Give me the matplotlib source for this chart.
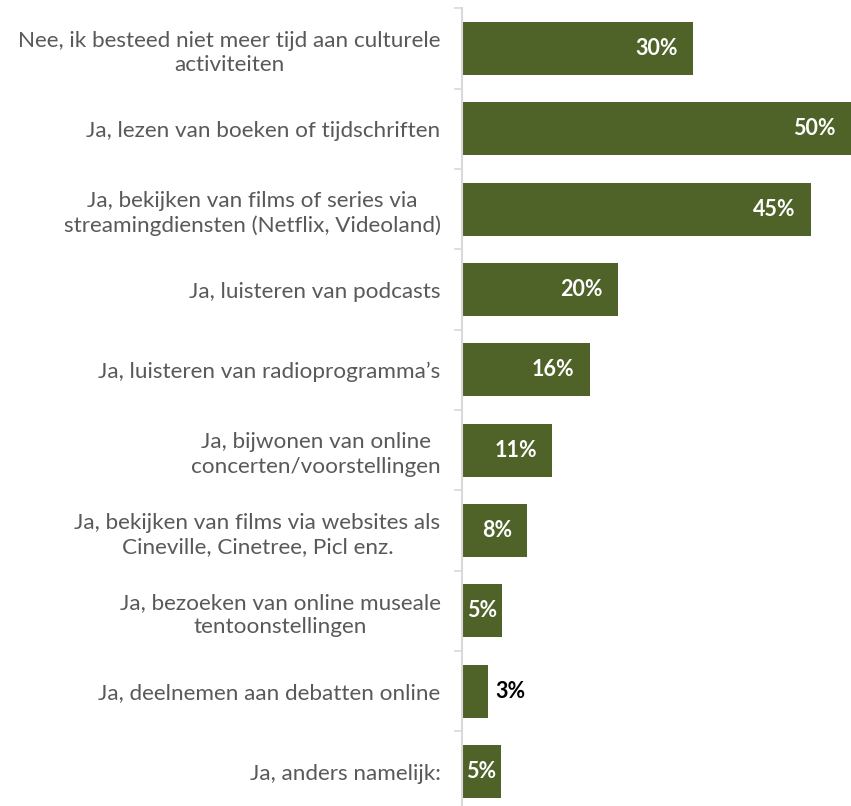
import numpy as np
import matplotlib.pyplot as plt

plt.rcParams['font.family'] = ['Lato', 'DejaVu Sans']

categories = [
    "Nee, ik besteed niet meer tijd aan culturele\nactiviteiten",
    "Ja, lezen van boeken of tijdschriften",
    "Ja, bekijken van films of series via\nstreamingdiensten (Netflix, Videoland)",
    "Ja, luisteren van podcasts",
    "Ja, luisteren van radioprogramma\u2019s",
    "Ja, bijwonen van online\nconcerten/voorstellingen",
    "Ja, bekijken van films via websites als\nCineville, Cinetree, Picl enz.",
    "Ja, bezoeken van online museale\ntentoonstellingen",
    "Ja, deelnemen aan debatten online",
    "Ja, anders namelijk:",
]
values = [29.7, 50.0, 44.9, 20.1, 16.4, 11.6, 8.4, 5.1, 3.3, 5.0]
labels = ["30%", "50%", "45%", "20%", "16%", "11%", "8%", "5%", "3%", "5%"]

bar_color = "#4F6228"
grey = "#595959"

fig = plt.figure(figsize=(8.51, 8.06), dpi=100)
ax = fig.add_axes([0.543, -0.0072, 0.457, 0.9968])

y = np.arange(len(categories))
ax.barh(y, values, height=0.66, color=bar_color)
ax.set_xlim(0, 50.05)
ax.set_ylim(len(categories) - 0.5, -0.5)

ax.set_yticks(y)
ax.set_yticklabels(categories, fontsize=16.2, color=grey)
for t in ax.get_yticklabels():
    t.set_multialignment("center")
    t.set_linespacing(1.27)
ax.set_yticks(np.arange(len(categories) + 1) - 0.5, minor=True)
ax.tick_params(axis="y", which="major", length=0, pad=15.5)
ax.tick_params(axis="y", which="minor", length=6, color="#D9D9D9", width=1.2)
ax.set_xticks([])
for s in ["top", "right", "bottom"]:
    ax.spines[s].set_visible(False)
ax.spines["left"].set_color("#D9D9D9")
ax.spines["left"].set_linewidth(1.5)

# value labels
for yi, v, lab in zip(y, values, labels):
    if v < 4:
        ax.annotate(lab, (v, yi), xytext=(5.5, 0), textcoords="offset points",
                    ha="left", va="center", fontsize=15.5, fontweight="bold", color="black")
    elif v < 6:
        ax.text(v / 2, yi, lab, ha="center", va="center",
                fontsize=15.5, fontweight="bold", color="white")
    else:
        ax.annotate(lab, (v, yi), xytext=(-11, 0), textcoords="offset points",
                    ha="right", va="center", fontsize=15.5, fontweight="bold", color="white")

fig.savefig("out.png", dpi=100)
